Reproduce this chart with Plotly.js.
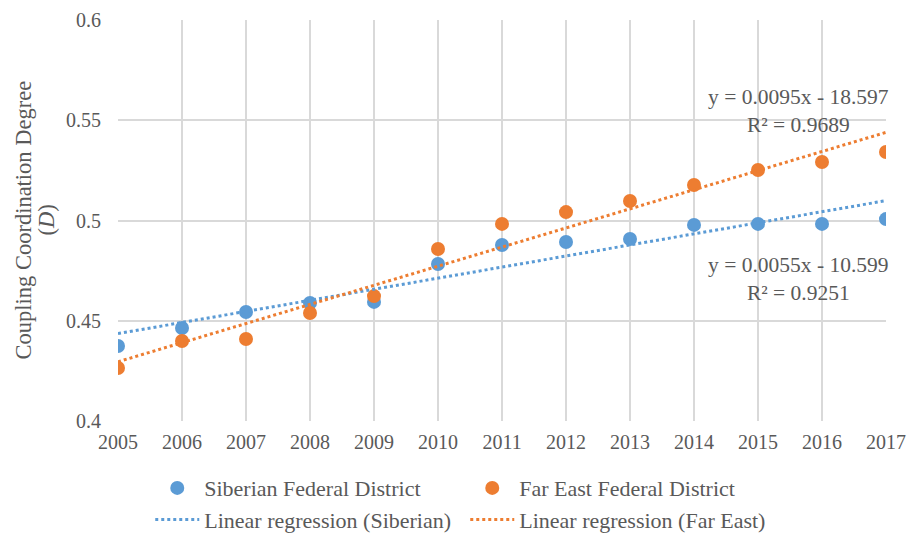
<!DOCTYPE html>
<html><head><meta charset="utf-8">
<script src="https://cdn.plot.ly/plotly-3.0.1.min.js"></script>
<style>body{margin:0;background:#fff}#c{width:910px;height:540px}</style>
</head><body><div id="c"></div>
<script>
const years = [2005,2006,2007,2008,2009,2010,2011,2012,2013,2014,2015,2016,2017];
const siberian = [0.4374,0.4464,0.4544,0.4589,0.4594,0.4783,0.4878,0.4893,0.4908,0.4978,0.4983,0.4983,0.5007];
const farEast = [0.4264,0.4399,0.4409,0.4539,0.4623,0.4858,0.4983,0.5042,0.5097,0.5177,0.5252,0.5292,0.5342];
const eqSiberian = "y = 0.0055x - 10.599<br>R² = 0.9251";
const eqFarEast = "y = 0.0095x - 18.597<br>R² = 0.9689";
const yTitle1 = "Coupling Coordination Degree";
const yTitle2 = "(<i>D</i>)";

function fit(xs, ys){
  const n = xs.length;
  const mx = xs.reduce((a,b)=>a+b,0)/n, my = ys.reduce((a,b)=>a+b,0)/n;
  let sxy=0,sxx=0;
  for(let i=0;i<n;i++){sxy+=(xs[i]-mx)*(ys[i]-my);sxx+=(xs[i]-mx)**2;}
  const b=sxy/sxx, a=my-b*mx;
  return xs.map(x=>a+b*x);
}
const blue = '#5B9BD5', orange = '#ED7D31';
const fam = "'Liberation Serif', serif";
const F = s => ({family:fam, color:'#595959', size:s});
const traces = [
  {x:years,y:siberian,mode:'markers',name:'Siberian Federal District',marker:{color:blue,size:14}},
  {x:years,y:farEast,mode:'markers',name:'Far East Federal District',marker:{color:orange,size:14}},
  {x:years,y:fit(years,siberian),mode:'lines',name:'Linear regression (Siberian)',line:{color:blue,dash:'dot',width:3}},
  {x:years,y:fit(years,farEast),mode:'lines',name:'Linear regression (Far East)',line:{color:orange,dash:'dot',width:3}}
];
const px = p => (p-118)/768;
const layout = {
  width:910,height:540,
  margin:{l:118,r:24,t:20,b:119,autoexpand:false},
  paper_bgcolor:'#fff',plot_bgcolor:'#fff',
  font:F(20),
  showlegend:true,
  legend:{orientation:'h',x:0.042,xanchor:'left',yref:'container',y:0.135,yanchor:'top',entrywidth:256,itemwidth:44,font:F(22),traceorder:'normal',tracegroupgap:0},
  xaxis:{range:[2005,2017],dtick:1,tick0:2005,showgrid:true,gridcolor:'#d9d9d9',gridwidth:1.5,zeroline:false,showline:false,ticks:'',ticklabelstandoff:7,tickfont:F(20),automargin:false},
  yaxis:{range:[0.4,0.6],dtick:0.05,showgrid:true,gridcolor:'#d9d9d9',gridwidth:1.5,zeroline:false,showline:false,ticks:'',ticklabelstandoff:16,
    tickfont:F(20),automargin:false},
  annotations:[
    {x:2015.625,y:0.5546,xref:'x',yref:'y',text:eqFarEast,showarrow:false,align:'center',font:F(21.5)},
    {x:2015.625,y:0.4708,xref:'x',yref:'y',text:eqSiberian,showarrow:false,align:'center',font:F(21.5)},
    {x:px(23),y:0.5,xref:'paper',yref:'paper',text:yTitle1,textangle:-90,showarrow:false,xanchor:'center',yanchor:'middle',font:F(22.5)},
    {x:px(46),y:0.5,xref:'paper',yref:'paper',text:yTitle2,textangle:-90,showarrow:false,xanchor:'center',yanchor:'middle',font:F(22.5)}
  ]
};
Plotly.newPlot('c',traces,layout,{displayModeBar:false});
</script></body></html>
